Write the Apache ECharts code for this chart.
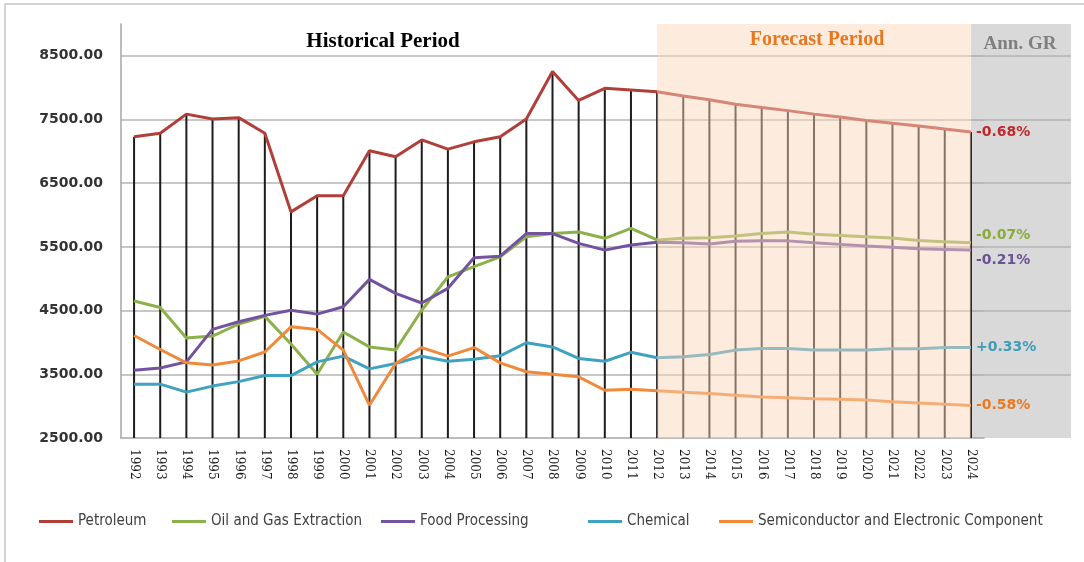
<!DOCTYPE html>
<html>
<head>
<meta charset="utf-8">
<title>Industry output 1992-2024</title>
<script src="https://cdn.jsdelivr.net/npm/echarts@6.0.0/dist/echarts.min.js"></script>
<style>
  html, body { margin: 0; padding: 0; background: #ffffff; }
  #chart { width: 1084px; height: 562px; }
</style>
</head>
<body>
<div id="chart"></div>
<script>
// Years on the category axis
const years = ['1992','1993','1994','1995','1996','1997','1998','1999','2000','2001','2002',
  '2003','2004','2005','2006','2007','2008','2009','2010','2011','2012','2013','2014','2015',
  '2016','2017','2018','2019','2020','2021','2022','2023','2024'];

// Series values (historical 1992-2012, forecast 2013-2024)
const petroleum = [7230, 7285, 7585, 7510, 7530, 7285, 6050, 6305, 6305, 7010, 6915,
  7180, 7035, 7150, 7230, 7510, 8255, 7800, 7990, 7965, 7935, 7870, 7810, 7740,
  7690, 7640, 7585, 7540, 7485, 7440, 7400, 7350, 7305];
const oilGas = [4650, 4550, 4070, 4100, 4290, 4410, 3975, 3500, 4165, 3930, 3880,
  4505, 5030, 5190, 5345, 5660, 5710, 5735, 5635, 5790, 5610, 5635, 5645, 5670,
  5710, 5735, 5700, 5680, 5660, 5640, 5600, 5580, 5565];
const foodProcessing = [3565, 3600, 3695, 4205, 4325, 4425, 4505, 4445, 4560, 4990, 4770,
  4620, 4850, 5330, 5355, 5710, 5710, 5555, 5450, 5530, 5575, 5565, 5545, 5590,
  5595, 5595, 5565, 5540, 5515, 5495, 5470, 5460, 5450];
const chemical = [3345, 3345, 3220, 3315, 3385, 3480, 3480, 3695, 3785, 3585, 3670,
  3785, 3705, 3735, 3790, 3995, 3930, 3750, 3705, 3845, 3760, 3775, 3810, 3880,
  3905, 3905, 3880, 3880, 3880, 3900, 3900, 3920, 3920];
const semiconductor = [4110, 3890, 3680, 3645, 3710, 3850, 4245, 4205, 3880, 3015, 3670,
  3920, 3785, 3920, 3680, 3540, 3500, 3460, 3250, 3265, 3240, 3220, 3200, 3170,
  3145, 3130, 3115, 3110, 3095, 3070, 3050, 3030, 3010];

// Annual growth rates over the forecast period
const seriesNames = ['Petroleum', 'Oil and Gas Extraction', 'Food Processing', 'Chemical',
  'Semiconductor and Electronic Component'];
const annualGrowth = ['-0.68%', '-0.07%', '-0.21%', '+0.33%', '-0.58%'];

// Y axis range and step
const yMin = 2500, yMax = 9000, yStep = 1000;
const forecastStart = '2012', forecastEnd = '2024';

const lineColors = ['#b23e3a', '#8db14a', '#7353a0', '#3ea2c0', '#f0893a'];
const growthColors = ['#c0282d', '#8aab3c', '#6a5293', '#3d9cb8', '#e97a24'];
const growthOffsets = [[0, 0], [0, -7], [0, 10], [0, 0], [0, 0]];
const legendLeft = [39, 172, 381, 588, 719];

const seriesData = [petroleum, oilGas, foodProcessing, chemical, semiconductor];

const chart = echarts.init(document.getElementById('chart'), null, { renderer: 'canvas' });

const sansBold = "'DejaVu Sans', Verdana, sans-serif";
const serif = "'Liberation Serif', 'Times New Roman', serif";
const legendFont = "'Liberation Sans Narrow', 'DejaVu Sans Condensed', 'Liberation Sans', sans-serif";

const lineSeries = seriesData.map((data, i) => ({
  name: seriesNames[i],
  type: 'line',
  data: data,
  symbol: 'none',
  xAxisIndex: 0,
  yAxisIndex: 0,
  z: 3,
  lineStyle: { color: lineColors[i], width: 3 },
  itemStyle: { color: lineColors[i] },
  endLabel: {
    show: true,
    formatter: () => annualGrowth[i],
    color: growthColors[i],
    fontFamily: sansBold,
    fontWeight: 'bold',
    fontSize: 14,
    distance: 5,
    offset: growthOffsets[i]
  }
}));

const option = {
  animation: false,
  backgroundColor: '#ffffff',
  grid: [
    // main plot
    { left: 121, top: 24, width: 863, bottom: 124, containLabel: false },
    // annual growth column
    { left: 971, top: 24, width: 100, bottom: 124, show: true, backgroundColor: '#d9d9d9', borderWidth: 0, z: -1 }
  ],
  xAxis: [
    {
      type: 'category',
      gridIndex: 0,
      data: years,
      boundaryGap: true,
      axisLine: { show: true, lineStyle: { color: '#a6a6a6', width: 1.5 } },
      axisTick: { show: false },
      axisLabel: {
        rotate: -90,
        interval: 0,
        margin: 11,
        color: '#1a1a1a',
        fontFamily: "'DejaVu Serif', serif",
        fontSize: 12
      },
      splitLine: { show: false }
    },
    { type: 'value', gridIndex: 1, min: 0, max: 1, show: false }
  ],
  yAxis: [
    {
      type: 'value',
      gridIndex: 0,
      min: yMin,
      max: yMax,
      interval: yStep,
      axisLine: { show: true, lineStyle: { color: '#a6a6a6', width: 1.5 } },
      axisTick: { show: false },
      axisLabel: {
        showMaxLabel: false,
        margin: 18,
        formatter: v => v.toFixed(2),
        color: '#333333',
        fontFamily: sansBold,
        fontWeight: 'bold',
        fontSize: 14
      },
      splitLine: { show: true, showMaxLine: false, showMinLine: false, lineStyle: { color: '#b4b4b4', width: 1.5 } }
    },
    {
      type: 'value',
      gridIndex: 1,
      min: yMin,
      max: yMax,
      interval: yStep,
      axisLine: { show: false },
      axisTick: { show: false },
      axisLabel: { show: false },
      splitLine: { show: true, showMaxLine: false, showMinLine: false, lineStyle: { color: '#b4b4b4', width: 1.5 } }
    }
  ],
  legend: seriesNames.map((name, i) => ({
    data: [name],
    left: legendLeft[i],
    top: 514,
    icon: 'rect',
    itemWidth: 34,
    itemHeight: 3,
    padding: 0,
    selectedMode: false,
    textStyle: { fontFamily: legendFont, fontSize: 15, color: '#404040' }
  })),
  graphic: [
    {
      type: 'rect',
      z: -10,
      silent: true,
      shape: { x: 5, y: 4, width: 1100, height: 600 },
      style: { fill: 'none', stroke: '#d4d4d4', lineWidth: 2 }
    },
    {
      type: 'text', x: 383, y: 42, z: 20, silent: true,
      style: { text: 'Historical Period', fill: '#000000', font: 'bold 21px ' + serif,
        align: 'center', verticalAlign: 'middle', textAlign: 'center', textVerticalAlign: 'middle' }
    },
    {
      type: 'text', x: 817, y: 40, z: 20, silent: true,
      style: { text: 'Forecast Period', fill: '#e8771f', font: 'bold 20px ' + serif,
        align: 'center', verticalAlign: 'middle', textAlign: 'center', textVerticalAlign: 'middle' }
    },
    {
      type: 'text', x: 1020, y: 44, z: 20, silent: true,
      style: { text: 'Ann. GR', fill: '#7f7f7f', font: 'bold 19px ' + serif,
        align: 'center', verticalAlign: 'middle', textAlign: 'center', textVerticalAlign: 'middle' }
    }
  ],
  series: [
    // drop lines from the petroleum curve down to the category axis
    {
      name: 'dropLines',
      type: 'bar',
      data: petroleum,
      barWidth: 2,
      silent: true,
      z: 1,
      itemStyle: { color: '#1c1c1c' }
    },
    ...lineSeries,
    // translucent band over the forecast years
    {
      name: 'forecastBand',
      type: 'line',
      data: [],
      silent: true,
      z: 10,
      markArea: {
        silent: true,
        z: 10,
        itemStyle: { color: 'rgba(250, 213, 186, 0.48)' },
        data: [[{ xAxis: forecastStart }, { xAxis: forecastEnd }]]
      }
    }
  ]
};

chart.setOption(option);
</script>
</body>
</html>
